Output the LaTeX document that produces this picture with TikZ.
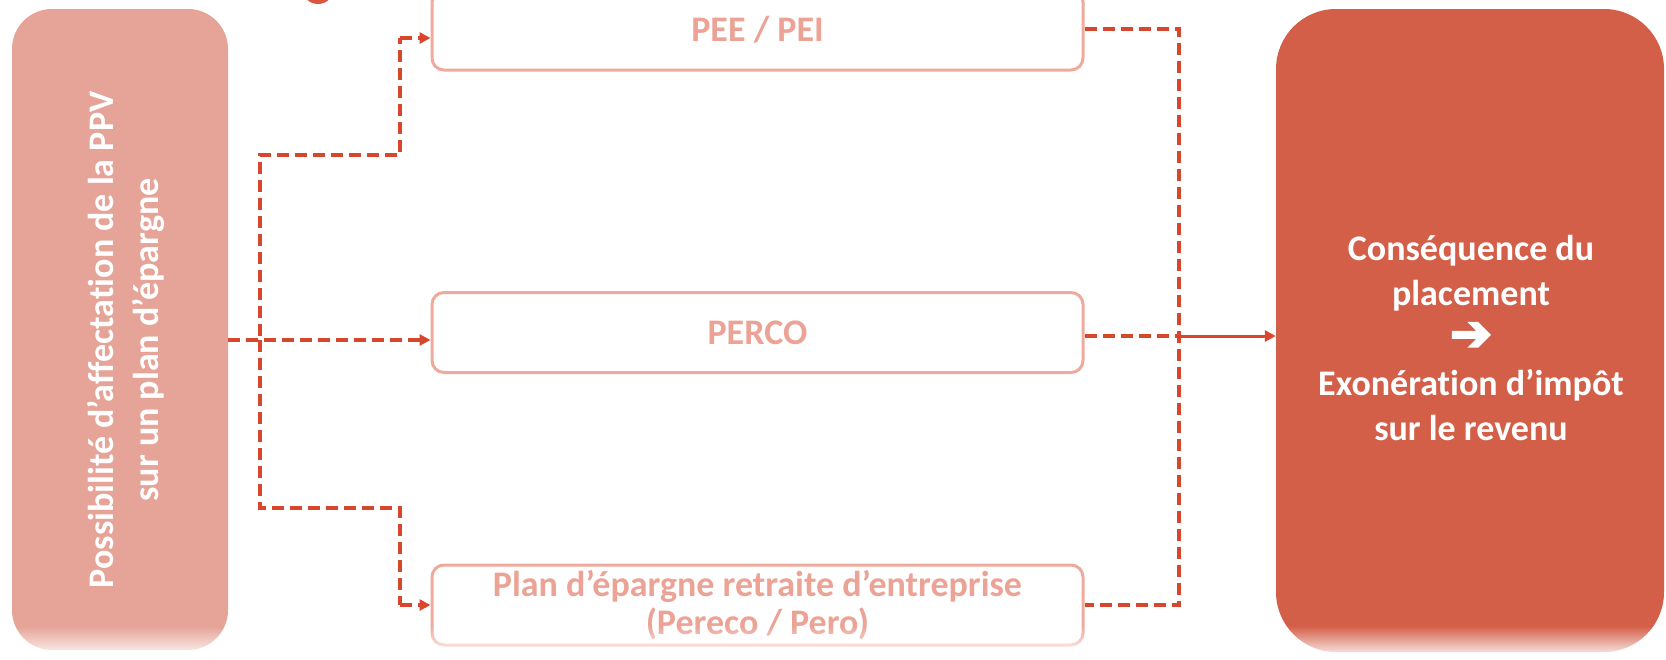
\documentclass[tikz,border=0pt]{standalone}
\usepackage{fontspec}
\setmainfont{Carlito}[Ligatures={NoCommon}]
\newfontfamily\dejavu{DejaVu Sans}[FakeBold=4]
\usetikzlibrary{arrows.meta,fadings}
\definecolor{lsal}{HTML}{E6A397}
\definecolor{rred}{HTML}{D45F49}
\definecolor{bord}{HTML}{EFAA9E}
\definecolor{btxt}{HTML}{ECA396}
\definecolor{dashc}{HTML}{D8462E}
\definecolor{dotc}{HTML}{DA563F}
\begin{document}
\begin{tikzpicture}[x=1pt,y=-1pt,
  bigbox/.style={inner sep=0pt, draw=none},
  planbox/.style={draw=bord, line width=3pt, fill=white, rounded corners=12pt,
    minimum width=651pt, minimum height=80pt, inner sep=0pt,
    text=btxt, font=\bfseries\fontsize{36}{38}\selectfont, align=center},
  wtext/.style={text=white, font=\bfseries\fontsize{36}{45}\selectfont, align=center, inner sep=0pt},
  dlink/.style={draw=dashc, line width=4pt, dash pattern=on 12pt off 6pt},
  tip/.style={-{Triangle[length=11pt,width=11pt]}},
]
\useasboundingbox (0,0) rectangle (1666,659);
\fill[white] (0,0) rectangle (1666,659);
% partial circle at the top
\fill[dotc] (318,-12) circle (16);
% big boxes
\node[bigbox, fill=lsal, rounded corners=40pt, minimum width=216pt, minimum height=641pt] (lbox) at (120,329.5) {};
\node[bigbox, fill=rred, rounded corners=60pt, minimum width=388pt, minimum height=643pt] (rbox) at (1470,330.5) {};
\node[wtext, rotate=90] (ltext) at (126,340) {Possibilité d’affectation de la PPV\\sur un plan d’épargne};
\node[wtext] (rtext) at (1471,338) {Conséquence du\\placement\\{\dejavu\fontsize{50}{45}\selectfont ➔}\\Exonération d’impôt\\sur le revenu};
% plan boxes
\node[planbox] (pee) at (757.5,30) {PEE / PEI};
\node[planbox] (perco) at (757.5,332.5) {PERCO};
\node[planbox] (pere) at (757.5,605) {Plan d’épargne retraite d’entreprise\\(Pereco / Pero)};
% coordinates
\coordinate (split) at (260,340);
\coordinate (join) at (1179,336);
% left connectors
\draw[dlink] (lbox.east |- split) -- (split) -- (260,155) -- (400,155) -- (400,38);
\draw[dlink, tip] (400,38) -- (pee.west |- 400,38);
\draw[dlink, tip] (lbox.east |- split) -- (perco.west |- split);
\draw[dlink] (split) -- (260,508) -- (400,508) -- (400,605);
\draw[dlink, tip] (400,605) -- (pere.west |- 400,605);
% right connectors
\draw[dlink] (pee.east |- 0,29) -- (1179,29) -- (1179,605) -- (pere.east |- 0,605);
\draw[dlink] (perco.east |- join) -- (join);
\draw[draw=dashc, line width=3pt, tip] (join) -- (rbox.west |- join);
% bottom fade
\fill[white, path fading=north] (0,626) rectangle (1666,659);
\end{tikzpicture}
\end{document}
